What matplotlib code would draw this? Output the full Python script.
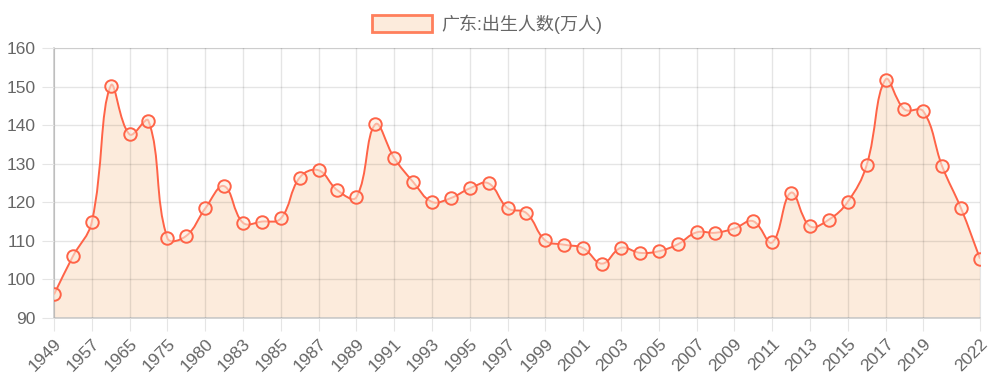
"""Guangdong births per year (10k people), area line chart."""
import matplotlib

matplotlib.use("Agg")
import matplotlib.pyplot as plt
import numpy as np
from matplotlib.patches import Patch, PathPatch
from matplotlib.path import Path

plt.rcParams["font.family"] = ["Liberation Sans", "Noto Sans CJK SC", "DejaVu Sans"]

# category labels (the in-between years are hidden on the axis)
years = [
    "1949", "1952", "1957", "1963", "1965", "1970", "1975", "1978", "1980", "1982",
    "1983", "1984", "1985", "1986", "1987", "1988", "1989", "1990", "1991", "1992",
    "1993", "1994", "1995", "1996", "1997", "1998", "1999", "2000", "2001", "2002",
    "2003", "2004", "2005", "2006", "2007", "2008", "2009", "2010", "2011", "2012",
    "2013", "2014", "2015", "2016", "2017", "2018", "2019", "2020", "2021", "2022",
]
births = [
    96.1, 106.0, 114.9, 150.2, 137.6, 141.1, 110.7, 111.3, 118.4, 124.2,
    114.7, 115.0, 115.8, 126.4, 128.3, 123.1, 121.3, 140.2, 131.5, 125.3,
    120.1, 121.1, 123.6, 124.9, 118.5, 117.2, 110.1, 109.0, 108.1, 104.1,
    108.2, 106.9, 107.3, 109.1, 112.2, 112.1, 113.2, 115.1, 109.6, 122.5,
    113.8, 115.5, 120.1, 129.6, 151.8, 144.1, 143.6, 129.3, 118.4, 105.4,
]
series_name = "广东:出生人数(万人)"
y_ticks = [90, 100, 110, 120, 130, 140, 150, 160]

LINE = "#ff6347"
FILL = "#fcebdc"
GRID = "#e5e5e5"
TEXT = "#666666"


def spline_path(ax, xs, ys, tension=0.4):
    """Cubic bezier through the points, same rule as Chart.js splineCurve."""
    pts = ax.transData.transform(np.column_stack([xs, ys]))
    n = len(pts)
    before = np.zeros_like(pts)
    after = np.zeros_like(pts)
    for i in range(n):
        p0, p1, p2 = pts[max(i - 1, 0)], pts[i], pts[min(i + 1, n - 1)]
        d01 = np.hypot(*(p1 - p0))
        d12 = np.hypot(*(p2 - p1))
        total = d01 + d12
        s01 = d01 / total if total else 0.0
        s12 = d12 / total if total else 0.0
        before[i] = p1 - tension * s01 * (p2 - p0)
        after[i] = p1 + tension * s12 * (p2 - p0)
    verts = [pts[0]]
    codes = [Path.MOVETO]
    for i in range(1, n):
        verts += [after[i - 1], before[i], pts[i]]
        codes += [Path.CURVE4] * 3
    verts = ax.transData.inverted().transform(np.array(verts))
    return verts, codes


fig = plt.figure(figsize=(9.9, 3.9), dpi=100)
ax = fig.add_axes([54 / 990, 1 - 318 / 390, 926 / 990, 270 / 390])

x = np.arange(len(years))
ax.set_xlim(0, len(years) - 1)
ax.set_ylim(y_ticks[0], y_ticks[-1])

verts, codes = spline_path(ax, x, births)
line_path = Path(verts, codes)
fill_verts = np.vstack([verts, [[x[-1], y_ticks[0]], [x[0], y_ticks[0]], [x[0], births[0]]]])
fill_codes = codes + [Path.LINETO, Path.LINETO, Path.CLOSEPOLY]
ax.add_patch(PathPatch(Path(fill_verts, fill_codes), facecolor=FILL, edgecolor="none", zorder=1))
ax.add_patch(PathPatch(line_path, facecolor="none", edgecolor=LINE, lw=1.4, zorder=3))
ax.plot(x, births, "o", ms=9, mfc=(0.99, 0.92, 0.86, 0.6), mec=LINE, mew=1.4, zorder=4)

shown = list(range(0, len(years) - 2, 2)) + [len(years) - 1]
ax.set_xticks(shown)
ax.set_xticklabels([years[i] for i in shown], rotation=45, ha="right",
                   rotation_mode="anchor", fontsize=12.5, color=TEXT)
ax.set_yticks(y_ticks)
ax.set_yticklabels([str(v) for v in y_ticks], fontsize=12.5, color=TEXT)
ax.tick_params(axis="x", length=9, color=GRID, pad=4)
ax.tick_params(axis="y", length=9, color=GRID, pad=4)
# gridlines sit above the fill so they show through it, as in the original
ax.grid(True, color="black", alpha=0.1, lw=1)
ax.set_axisbelow(False)
for side in ["top", "right"]:
    ax.spines[side].set_color(GRID)
for side in ["left", "bottom"]:
    ax.spines[side].set_color("#cccccc")
    ax.spines[side].set_linewidth(1.2)

handle = Patch(facecolor=FILL, edgecolor="#ff7f5c", lw=2)
fig.legend([handle], [series_name], loc="center", bbox_to_anchor=(0.492, 0.938),
           frameon=False, fontsize=13, handlelength=3.3, handleheight=1.05,
           handletextpad=0.5, labelcolor=TEXT)

fig.savefig("out.png", dpi=100)
